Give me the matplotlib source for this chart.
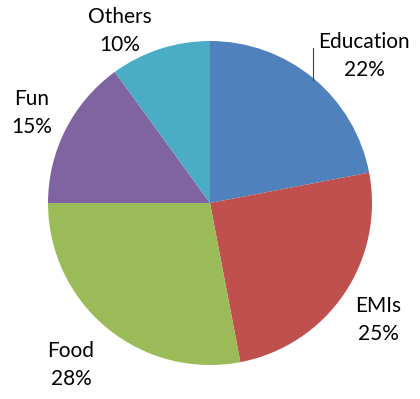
import matplotlib.pyplot as plt

categories = ['Education', 'EMIs', 'Food', 'Fun', 'Others']
shares = [22, 25, 28, 15, 10]
colors = ['#4F81BD', '#C0504D', '#9BBB59', '#8064A2', '#4BACC6']

# label centres in pixels of the 420x399 image
label_px = [(364, 56), (378, 320), (71, 365), (32, 113), (120, 31)]

plt.rcParams['font.family'] = ['Lato', 'DejaVu Sans']

fig = plt.figure(figsize=(4.2, 3.99), dpi=100)
cx, cy, r = 210, 203, 162
ax = fig.add_axes([(cx - r) / 420, (399 - cy - r) / 399, 2 * r / 420, 2 * r / 399])

ax.pie(shares, colors=colors, startangle=90, counterclock=False, radius=1,
       wedgeprops=dict(linewidth=0))
ax.set_xlim(-1, 1)
ax.set_ylim(-1, 1)
ax.set_aspect('equal')
ax.axis('off')

for name, val, (px, py) in zip(categories, shares, label_px):
    x = (px - cx) / r
    y = (cy - py) / r
    ax.text(x, y, f'{name}\n{val}%', ha='center', va='center', fontsize=15,
            linespacing=1.55, color='black', clip_on=False)

# leader line for Education
ax.plot([(313 - cx) / r, (313 - cx) / r], [(cy - 48) / r, (cy - 80) / r],
        color='#404040', linewidth=0.8, clip_on=False)

fig.savefig('out.png', dpi=100)
